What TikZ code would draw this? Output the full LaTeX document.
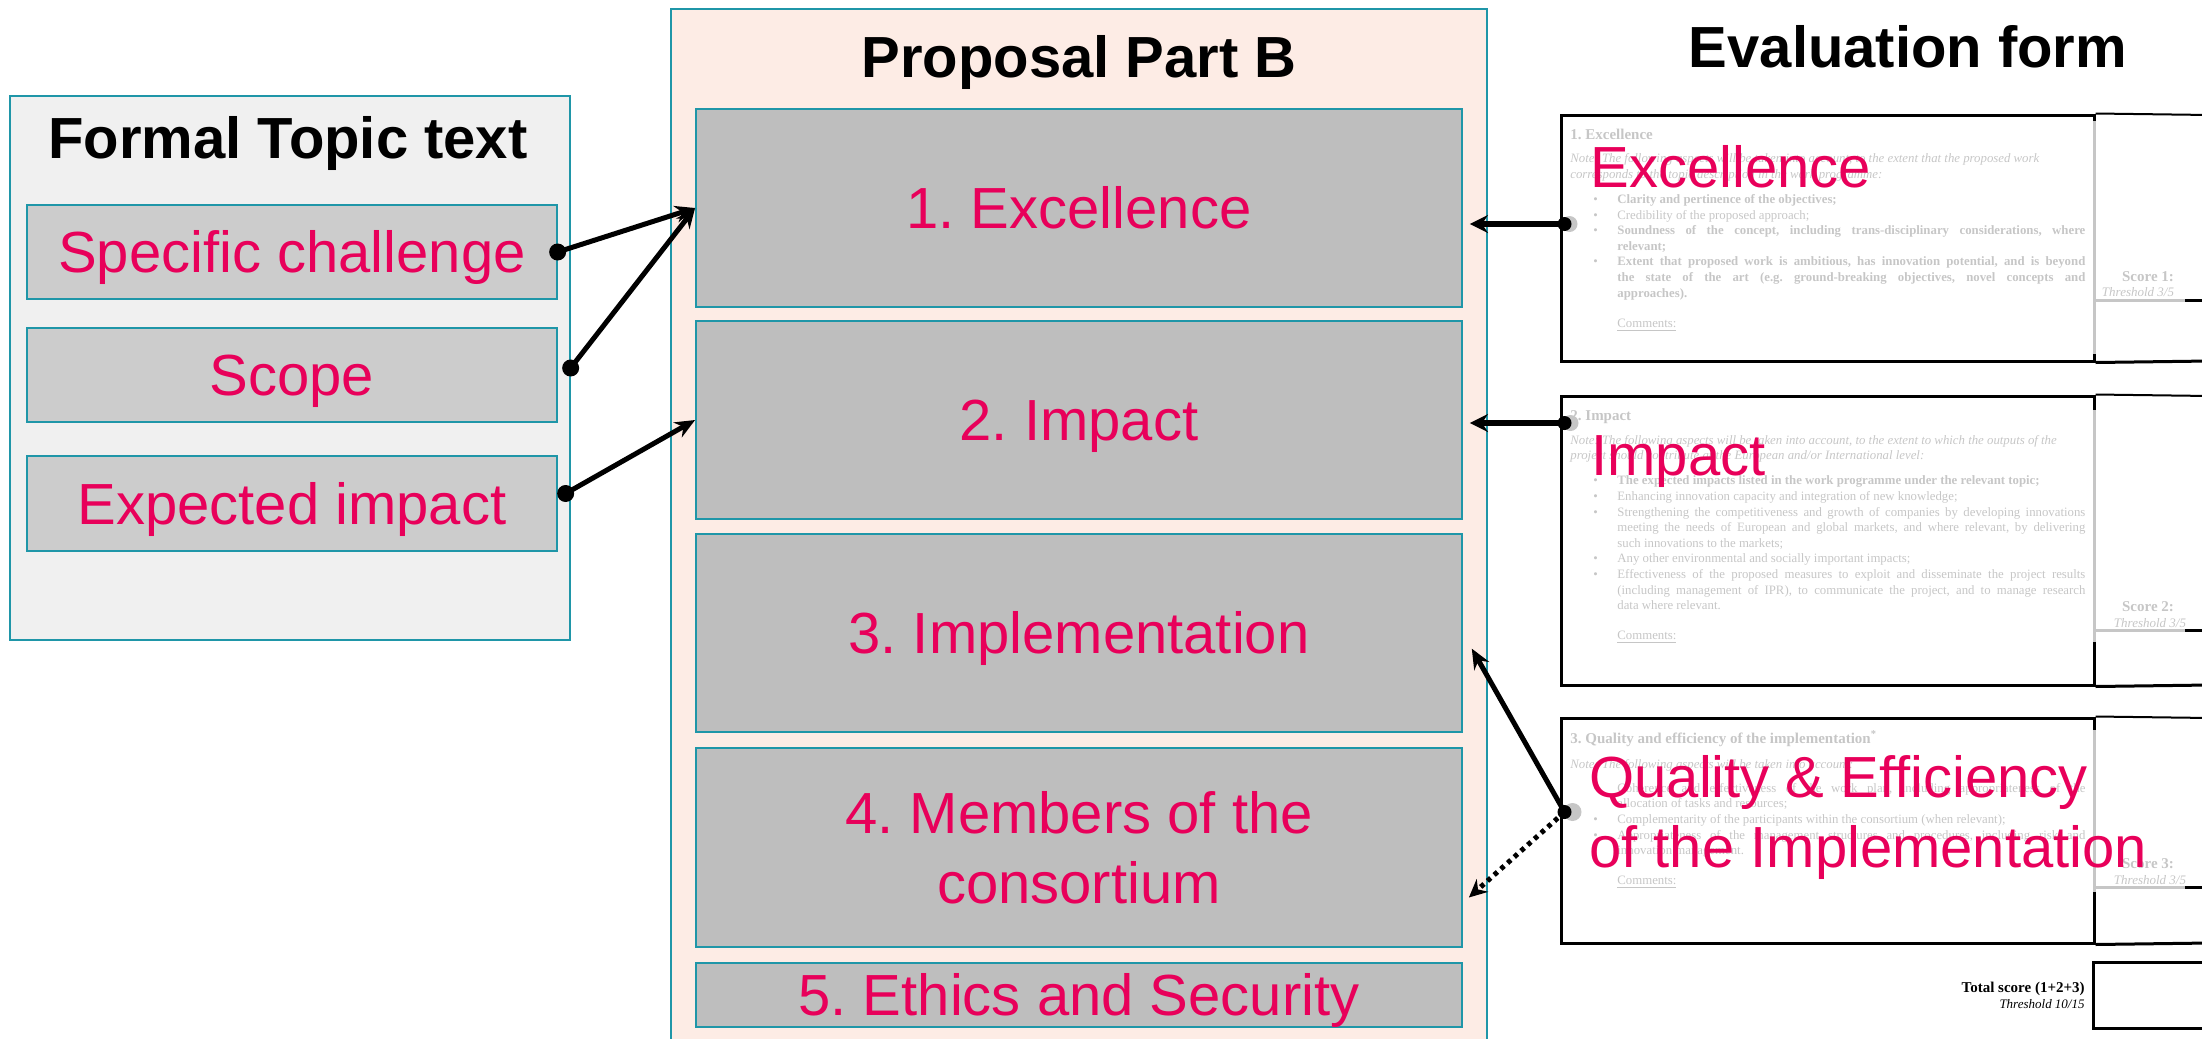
\documentclass[tikz,border=0pt]{standalone}
\usepackage{fontspec}
\setmainfont{Liberation Sans}
\newfontfamily\formfont{Liberation Serif}
\usepackage{xcolor}
\usetikzlibrary{positioning,arrows.meta}

\definecolor{edgeteal}{RGB}{31,150,168}
\definecolor{topicfill}{RGB}{240,240,240}
\definecolor{subfill}{RGB}{204,204,204}
\definecolor{peach}{RGB}{253,236,229}
\definecolor{secfill}{RGB}{190,190,190}
\definecolor{pinkred}{RGB}{232,0,90}
\definecolor{faint}{RGB}{198,198,198}

% bullet line of the form text
\newcommand{\fitem}{\par\hangindent=23.5pt\hangafter=1\noindent\hbox to 23.5pt{\hskip 11.5pt\textbullet\hss}}

\frenchspacing
\begin{document}
\begin{tikzpicture}[x=0.5pt,y=-0.5pt]
\tikzstyle{every node}+=[inner sep=0pt]
\tikzstyle{headtext}=[font=\bfseries\fontsize{29}{35}\selectfont]
\tikzstyle{topicbox}=[draw=edgeteal, line width=0.9pt, fill=topicfill]
\tikzstyle{partbox}=[draw=edgeteal, line width=0.9pt, fill=peach]
\tikzstyle{oneline}=[text height=20.8pt, text depth=0pt]
\tikzstyle{subbox}=[draw=edgeteal, line width=0.9pt, fill=subfill, minimum width=264.75pt, minimum height=47pt, text=pinkred, font=\fontsize{29}{35}\selectfont, oneline]
\tikzstyle{secbox}=[draw=edgeteal, line width=0.9pt, fill=secfill, minimum width=383pt, minimum height=99pt, text=pinkred, font=\fontsize{29}{35}\selectfont]
\tikzstyle{formbox}=[draw=black, line width=1.5pt, minimum width=266.5pt]
\tikzstyle{formtxt}=[text width=257.5pt, align=justify, text=faint, font=\formfont\fontsize{6.4}{7.8}\selectfont]
\tikzstyle{scoretxt}=[text=faint, font=\formfont\bfseries\fontsize{7.5}{9}\selectfont]
\tikzstyle{thrtxt}=[text=faint, font=\formfont\itshape\fontsize{6.5}{8}\selectfont]
\tikzstyle{faintline}=[draw=faint, line width=1.5pt]
\tikzstyle{evlabel}=[text=pinkred, font=\fontsize{29}{35}\selectfont]
\tikzstyle{link}=[line width=2.5pt, -{Stealth[length=10pt,width=8.5pt]}]
\tikzstyle{rlink}=[line width=3pt, -{Stealth[length=9pt,width=9pt]}, shorten >=3.5pt]
\tikzstyle{dotlink}=[line width=2.5pt, dash pattern=on 2.2pt off 2.3pt, -{Stealth[length=9pt,width=8.5pt]}]

\useasboundingbox (0,0) rectangle (2202,1039);
\clip (0,0) rectangle (2202,1039);

% formal topic text
\node[topicbox, minimum width=280pt, minimum height=272pt] (topic) at (290,368) {};
\node[headtext, anchor=base] (topictitle) at (288,158) {Formal Topic text};
\node[subbox] (sc) at (292,252) {Specific challenge};
\node[subbox] (scope) at (292,375) {Scope};
\node[subbox, minimum height=47.5pt] (ei) at (292,503.5) {Expected impact};

% proposal part B
\node[partbox, minimum width=408pt, minimum height=520.5pt] (partb) at (1079,529.5) {};
\node[headtext, anchor=base] (partbtitle) at (1079,77) {Proposal Part B};
\node[secbox, oneline] (ex) at (1079,208) {1. Excellence};
\node[secbox, oneline] (im) at (1079,420) {2. Impact};
\node[secbox, oneline] (ip) at (1079,633) {3. Implementation};
\node[secbox, minimum height=99.5pt, align=center] (mc) at (1079,847.5) {4. Members of the\\consortium};
\node[secbox, oneline, minimum height=32pt] (es) at (1079,995) {5. Ethics and Security};

% evaluation form
\node[headtext, anchor=base] (evtitle) at (1908,67) {Evaluation form};
\node[formbox, minimum height=123pt] (f1) at (1827.5,238) {};
\node[formbox, minimum height=144.5pt] (f2) at (1827.5,540.5) {};
\node[formbox, minimum height=112.5pt] (f3) at (1827.5,830.5) {};

\draw[line width=1pt] (f1.north east) -- (2210,115);
\draw[line width=1.5pt] (f1.south east) -- (2210,361);
\draw[faintline] (2094,121) -- (2094,354);
\draw[faintline] (2094,300) -- (2185,300);
\draw[line width=1.5pt] (2185,300) -- (2210,300);

\draw[line width=1pt] (f2.north east) -- (2210,396);
\draw[line width=1.5pt] (f2.south east) -- (2210,685);
\draw[faintline] (2094,410) -- (2094,642);
\draw[faintline] (2094,630) -- (2185,630);
\draw[line width=1.5pt] (2185,630) -- (2210,630);

\draw[line width=1pt] (f3.north east) -- (2210,718);
\draw[line width=1.5pt] (f3.south east) -- (2210,943);
\draw[faintline] (2094,730) -- (2094,892);
\draw[faintline] (2094,887) -- (2185,887);
\draw[line width=1.5pt] (2185,887) -- (2210,887);

\draw[line width=1.5pt] (2093,962) rectangle (2215,1028);

\node[formtxt, anchor=north west] (f1txt) at (1570,129) {%
{\fontsize{7.5}{9}\selectfont\bfseries 1. Excellence\par}
\vspace{3.7pt}
{\itshape\raggedright\hangindent=18.5pt\hangafter=1 Note: The following aspects will be taken into account, to the extent that the proposed work\\corresponds to the topic description in the work programme:\par}
\vspace{4.7pt}
\fitem{\bfseries Clarity and pertinence of the objectives;}
\fitem Credibility of the proposed approach;
\fitem{\bfseries Soundness of the concept, including trans-disciplinary considerations, where\linebreak relevant;}
\fitem{\bfseries Extent that proposed work is ambitious, has innovation potential, and is beyond\linebreak the state of the art (e.g. ground-breaking objectives, novel concepts and\linebreak approaches).}
\par\vspace{7.2pt}
\noindent\hspace*{23.5pt}\underline{Comments:}\par};

\node[formtxt, anchor=north west] (f2txt) at (1570,410) {%
{\fontsize{7.5}{9}\selectfont\bfseries 2. Impact\par}
\vspace{4.2pt}
{\itshape\raggedright\hangindent=18.5pt\hangafter=1 Note: The following aspects will be taken into account, to the extent to which the outputs of the\\project should contribute at the European and/or International level:\par}
\vspace{4.7pt}
\fitem{\bfseries The expected impacts listed in the work programme under the relevant topic;}
\fitem Enhancing innovation capacity and integration of new knowledge;
\fitem Strengthening the competitiveness and growth of companies by developing innovations\linebreak meeting the needs of European and global markets, and where relevant, by delivering\linebreak such innovations to the markets;
\fitem Any other environmental and socially important impacts;
\fitem Effectiveness of the proposed measures to exploit and disseminate the project results\linebreak (including management of IPR), to communicate the project, and to manage research\linebreak data where relevant.
\par\vspace{7.2pt}
\noindent\hspace*{23.5pt}\underline{Comments:}\par};

\node[formtxt, anchor=north west] (f3txt) at (1570,730) {%
{\fontsize{7.5}{9}\selectfont\bfseries 3. Quality and efficiency of the implementation\textsuperscript{*}\par}
\vspace{4.7pt}
{\itshape Note: The following aspects will be taken into account:\par}
\vspace{4.2pt}
\fitem Coherence and effectiveness of the work plan, including appropriateness of the\linebreak allocation of tasks and resources;
\fitem Complementarity of the participants within the consortium (when relevant);
\fitem Appropriateness of the management structures and procedures, including risk and\linebreak innovation management.
\par\vspace{7.2pt}
\noindent\hspace*{23.5pt}\underline{Comments:}\par};

\node[scoretxt, anchor=base] (score1) at (2148,281) {Score 1:};
\node[thrtxt, anchor=base] (thr1) at (2138,296) {Threshold 3/5};
\node[scoretxt, anchor=base] (score2) at (2148,611) {Score 2:};
\node[thrtxt, anchor=base] (thr2) at (2150,627) {Threshold 3/5};
\node[scoretxt, anchor=base] (score3) at (2148,868) {Score 3:};
\node[thrtxt, anchor=base] (thr3) at (2150,884) {Threshold 3/5};

\node[anchor=base east, font=\formfont\bfseries\fontsize{7.5}{9}\selectfont] (total) at (2085,992) {Total score (1+2+3)};
\node[anchor=base east, font=\formfont\itshape\fontsize{6.5}{8}\selectfont] (totalthr) at (2085,1008) {Threshold 10/15};

\node[evlabel, anchor=base west] (evex) at (1590,187) {Excellence};
\node[evlabel, anchor=base west] (evim) at (1591,475) {Impact};
\node[evlabel, anchor=base west] (evqe) at (1589,797) {Quality \& Efficiency};
\node[evlabel, anchor=base west] (evqe2) at (1589,867) {of the Implementation};

% topic -> proposal
\draw[link] (sc.east) -- (ex.west);
\draw[link] ([shift={(13,-7)}]scope.east) -- (ex.west);
\draw[link] ([shift={(8,-10)}]ei.east) -- (im.west);
\fill (sc.east) circle (8.5);
\fill ([shift={(13,-7)}]scope.east) circle (8.5);
\fill ([shift={(8,-10)}]ei.east) circle (8.5);

% form -> proposal
\coordinate (f1dot) at ([shift={(5,-14)}]f1.west);
\coordinate (f2dot) at ([shift={(5,-117.5)}]f2.west);
\coordinate (f3dot) at ([shift={(5,-18.5)}]f3.west);
\fill[faint] ([shift={(5,0)}]f1dot) circle (8);
\fill[faint] ([shift={(6,0)}]f2dot) circle (8);
\fill[faint] ([shift={(8,0)}]f3dot) circle (9);
\draw[rlink] (f1dot) -- (f1dot -| ex.east);
\draw[rlink] (f2dot) -- (f2dot -| im.east);
\draw[link, shorten >=9pt] (f3dot) -- (ip.east);
\draw[dotlink] (f3dot) -- ([shift={(6,50)}]mc.east);
\fill (f1dot) circle (7);
\fill (f2dot) circle (7);
\fill (f3dot) circle (7);
\end{tikzpicture}
\end{document}
